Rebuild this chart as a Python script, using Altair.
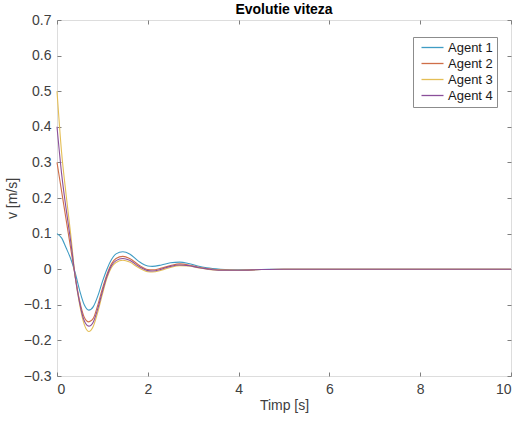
import altair as alt
import pandas as pd

t = [0, 0.1, 0.2, 0.3, 0.4, 0.5, 0.6, 0.7, 0.8, 0.9, 1.0, 1.1, 1.2, 1.3, 1.45, 1.6, 1.8,
     2.0, 2.1, 2.3, 2.5, 2.7, 2.9, 3.1, 3.3, 3.6, 4.0, 4.5, 5, 6, 7, 8, 9, 10]
agent1 = [0.1, 0.088, 0.06, 0.03, -0.01, -0.06, -0.1, -0.115, -0.105, -0.075, -0.035, 0.0,
          0.027, 0.043, 0.049, 0.043, 0.022, 0.009, 0.008, 0.012, 0.018, 0.02, 0.016, 0.009,
          0.004, 0.0, -0.002, -0.001, 0, 0, 0, 0, 0, 0]
agent2 = [0.3, 0.22, 0.14, 0.06, -0.02, -0.09, -0.135, -0.148, -0.138, -0.1, -0.055, -0.015,
          0.015, 0.03, 0.036, 0.03, 0.012, -0.001, -0.002, 0.003, 0.01, 0.015, 0.012, 0.006,
          0.002, -0.002, -0.003, -0.001, 0, 0, 0, 0, 0, 0]
agent3 = [0.5, 0.33, 0.21, 0.1, -0.02, -0.1, -0.155, -0.175, -0.16, -0.12, -0.07, -0.025,
          0.005, 0.019, 0.025, 0.02, 0.004, -0.007, -0.008, -0.003, 0.005, 0.01, 0.009, 0.004,
          0.0, -0.003, -0.003, -0.001, 0, 0, 0, 0, 0, 0]
agent4 = [0.4, 0.27, 0.17, 0.08, -0.02, -0.095, -0.145, -0.16, -0.148, -0.11, -0.063, -0.02,
          0.01, 0.024, 0.03, 0.025, 0.008, -0.004, -0.005, 0.0, 0.008, 0.012, 0.01, 0.005,
          0.001, -0.003, -0.003, -0.001, 0, 0, 0, 0, 0, 0]

names = ["Agent 1", "Agent 2", "Agent 3", "Agent 4"]
colors = ["#3f9cc4", "#cf6e48", "#e4be55", "#8a4f9a"]
series = [agent1, agent2, agent3, agent4]

rows = []
for n, vals in zip(names, series):
    for ti, v in zip(t, vals):
        rows.append({"t": ti, "v": v, "agent": n})
df = pd.DataFrame(rows)

xticks = [0, 2, 4, 6, 8, 10]
yticks = [-0.3, -0.2, -0.1, 0, 0.1, 0.2, 0.3, 0.4, 0.5, 0.6, 0.7]

xscale = alt.Scale(domain=[0, 10], nice=False, zero=False)
yscale = alt.Scale(domain=[-0.3, 0.7], nice=False, zero=False)

font = "Liberation Sans"
axis_common = dict(grid=False, domain=False, tickColor="#7f7f7f", tickSize=4, offset=-4,
                   labelFont=font, labelFontSize=14, labelColor="#404040",
                   titleFont=font, titleFontSize=14, titleFontWeight="normal",
                   titleColor="#404040")

lines = alt.Chart(df).mark_line(strokeWidth=1.1, interpolate="monotone").encode(
    x=alt.X("t:Q", scale=xscale,
            axis=alt.Axis(title="Timp [s]", values=xticks, labelPadding=6,
                          titlePadding=2, **axis_common)),
    y=alt.Y("v:Q", scale=yscale,
            axis=alt.Axis(title="v [m/s]", values=yticks,
                          format="~g", labelPadding=6, titlePadding=4, **axis_common)),
    color=alt.Color("agent:N", scale=alt.Scale(domain=names, range=colors),
                    legend=alt.Legend(title=None, orient="none", legendX=356, legendY=17,
                                      symbolType="M-2.2,0H2.2", symbolSize=100, symbolStrokeWidth=1.3,
                                      symbolOffset=9, labelOffset=9,
                                      labelFont=font, labelFontSize=13, labelColor="#1a1a1a",
                                      strokeColor="#8c8c8c", fillColor="white", padding=4,
                                      rowPadding=2)),
)

mirror = alt.Chart(df).mark_line(opacity=0).encode(
    x=alt.X("t:Q", scale=xscale,
            axis=alt.Axis(orient="top", title=None, labels=False, values=xticks,
                          grid=False, domain=False, tickColor="#7f7f7f", tickSize=4, offset=-4)),
    y=alt.Y("v:Q", scale=yscale,
            axis=alt.Axis(orient="right", title=None, labels=False, values=yticks,
                          grid=False, domain=False, tickColor="#7f7f7f", tickSize=4, offset=-4)),
)

chart = alt.layer(lines, mirror).resolve_axis(x="independent", y="independent").properties(
    width=454, height=356,
    title=alt.TitleParams("Evolutie viteza", font=font, fontSize=14, fontWeight="bold",
                          color="black", offset=3, dy=7),
    autosize=alt.AutoSizeParams(type="none"),
    padding={"left": 57, "top": 20, "right": 8, "bottom": 47},
).configure_view(stroke="#7f7f7f", strokeWidth=1).configure(background="white")

chart.save("out.html", embed_options={"renderer": "svg", "actions": False})
